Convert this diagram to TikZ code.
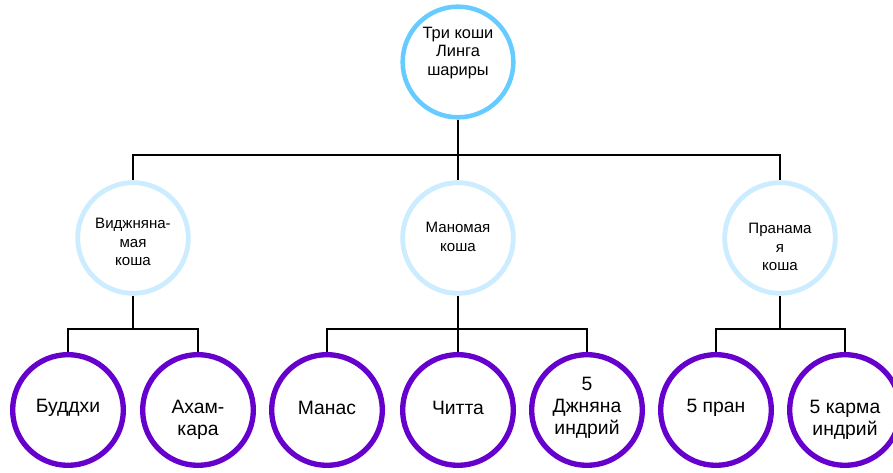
\documentclass[tikz,border=0pt]{standalone}
\usepackage{fontspec}
\setmainfont{Liberation Sans}
\definecolor{topblue}{RGB}{102,204,255}
\definecolor{midblue}{RGB}{204,236,255}
\definecolor{botpurple}{RGB}{102,0,204}
\begin{document}
\begin{tikzpicture}[x=0.75pt,y=-0.75pt,
  ring/.style={circle,fill=white,minimum size=83pt,inner sep=0pt},
  topring/.style={ring,draw=topblue,line width=3.4pt},
  midring/.style={ring,draw=midblue,line width=3.6pt},
  botring/.style={ring,draw=botpurple,line width=4pt},
  conn/.style={draw=black,line width=1.5pt},
  toptxt/.style={align=center,inner sep=0pt,font=\fontsize{12.3}{13.8}\selectfont},
  midtxt/.style={align=center,inner sep=0pt,font=\fontsize{11.3}{13.7}\selectfont},
  bottxt/.style={align=center,inner sep=0pt,font=\fontsize{14.5}{16.5}\selectfont}]
\useasboundingbox (0,0) rectangle (893,473);
\fill[white] (0,0) rectangle (893,473);
% circles
\node[topring] (top) at (458,62) {};
\node[midring] (vij) at (133,238) {};
\node[midring] (mano) at (458,238) {};
\node[midring] (pran) at (780,238) {};
\node[botring] (buddhi) at (68,410) {};
\node[botring] (aham) at (198,410) {};
\node[botring] (manas) at (327,410) {};
\node[botring] (chitta) at (458,410) {};
\node[botring] (jnana) at (587,410) {};
\node[botring] (prana) at (716,410) {};
\node[botring] (karma) at (845,410) {};
% texts
\node[toptxt] (ttop) at (458,53) {Три коши\\Линга\\шариры};
\node[midtxt] (tvij) at (133,242) {Виджняна-\\мая\\коша};
\node[midtxt] (tmano) at (458,237) {Маномая\\коша};
\node[midtxt] (tpran) at (780,247) {Пранама\\я\\коша};
\node[bottxt] (tbuddhi) at (68,408) {Буддхи};
\node[bottxt] (taham) at (198,420) {Ахам-\\кара};
\node[bottxt] (tmanas) at (327,408) {Манас};
\node[bottxt] (tchitta) at (458,408) {Читта};
\node[bottxt] (tjnana) at (587,408) {5\\Джняна\\индрий};
\node[bottxt] (tprana) at (716,408) {5 пран};
\node[bottxt] (tkarma) at (845,420) {5 карма\\индрий};
% buses
\coordinate (bus) at (0,155);
\coordinate (lowbus) at (0,329);
% connectors
\draw[conn] (top.south) -- (mano.north);
\draw[conn] (vij.north) -- (vij.north |- bus) -| (pran.north);
\draw[conn] (vij.south) -- (vij.south |- lowbus);
\draw[conn] (buddhi.north) -- (buddhi.north |- lowbus) -| (aham.north);
\draw[conn] (mano.south) -- (chitta.north);
\draw[conn] (manas.north) -- (manas.north |- lowbus) -| (jnana.north);
\draw[conn] (pran.south) -- (pran.south |- lowbus);
\draw[conn] (prana.north) -- (prana.north |- lowbus) -| (karma.north);
\end{tikzpicture}
\end{document}
